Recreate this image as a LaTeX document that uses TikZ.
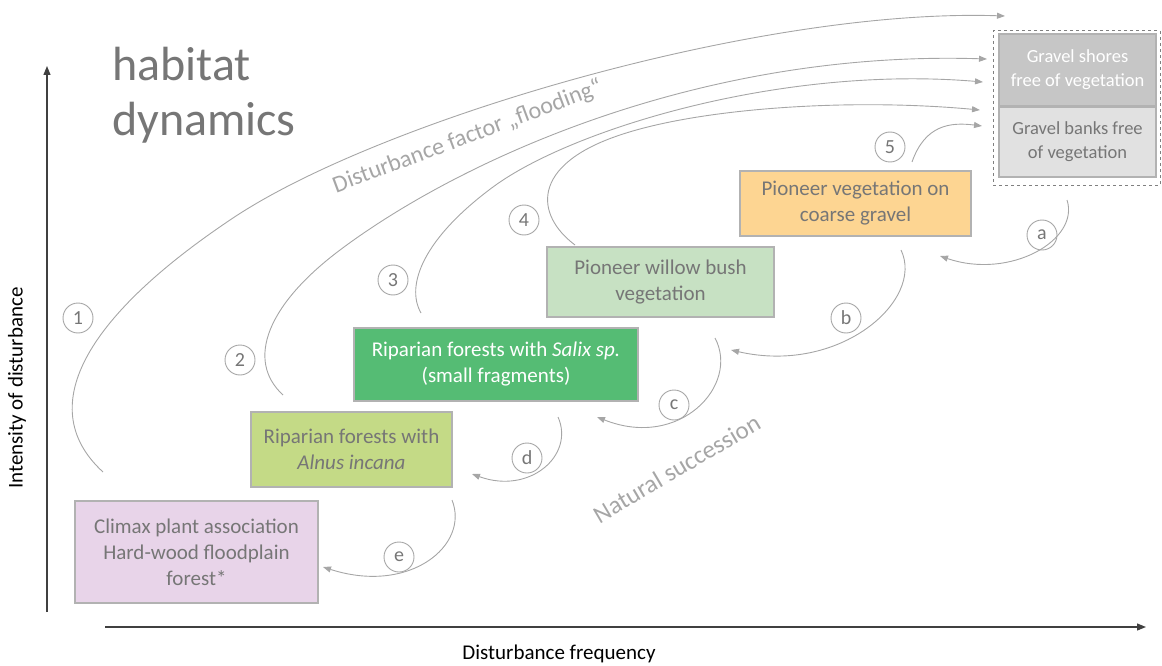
\documentclass[tikz,border=0pt]{standalone}
\usepackage{fontspec}
\setmainfont{Carlito}
\usetikzlibrary{arrows.meta}
\definecolor{txtgray}{HTML}{767676}
\definecolor{linegray}{HTML}{A6A6A6}
\definecolor{climaxfill}{HTML}{E8D4E9}
\definecolor{alnusfill}{HTML}{C4DA86}
\definecolor{salixfill}{HTML}{55BC74}
\definecolor{willowfill}{HTML}{C7E1C3}
\definecolor{gravelfill}{HTML}{FDD592}
\definecolor{shoresfill}{HTML}{C6C6C6}
\definecolor{banksfill}{HTML}{E1E1E1}

\begin{document}
\begin{tikzpicture}[x=1pt, y=-1pt,
    box/.style={draw=black!30, line width=1.3pt, inner sep=0pt, align=center,
      text=txtgray, font=\fontsize{21}{26}\selectfont},
    smallbox/.style={box, font=\fontsize{18.5}{24}\selectfont},
    tag/.style={circle, draw=linegray, line width=0.9pt, minimum size=30pt,
      inner sep=0pt, text=txtgray, font=\fontsize{20}{20}\selectfont},
    flood/.style={draw=linegray, line width=0.9pt, -{Triangle[length=8pt,width=6pt]}},
    axis/.style={draw=black!75, line width=1.2pt, -{Triangle[length=9pt,width=7pt]}}
    ]
    \useasboundingbox (0,0) rectangle (1162,666);

    % axes
    \coordinate (ybot) at (47,612);
    \coordinate (ytop) at (47,66);
    \coordinate (xleft) at (105,627);
    \coordinate (xright) at (1146,627);
    \draw[axis] (ybot) -- (ytop);
    \draw[axis] (xleft) -- (xright);
    \node[rotate=90, font=\fontsize{21}{21}\selectfont] (ylabel) at (17,388) {Intensity of disturbance};
    \node[font=\fontsize{21}{21}\selectfont] (xlabel) at (559,654) {Disturbance frequency};

    \node[anchor=north west, inner sep=0pt, align=left, text=txtgray,
      font=\fontsize{48}{55}\selectfont] (title) at (112,47) {habitat\\dynamics};

    % habitat boxes
    \node[box, fill=climaxfill, minimum width=243pt, minimum height=102pt] (climax) at (196.5,552)
      {Climax plant association\\Hard-wood floodplain\\forest*};
    \node[box, fill=alnusfill, minimum width=201pt, minimum height=75pt] (alnus) at (351.5,449.5)
      {Riparian forests with\\\textit{Alnus incana}};
    \node[box, fill=salixfill, text=white, minimum width=284pt, minimum height=73pt] (salix) at (496,364.5)
      {Riparian forests with \textit{Salix sp.}\\(small fragments)};
    \node[box, fill=willowfill, minimum width=227pt, minimum height=70pt] (willow) at (660.5,282)
      {Pioneer willow bush\\vegetation};
    \node[box, fill=gravelfill, minimum width=231pt, minimum height=65pt] (pioneer) at (855.5,203.5)
      {Pioneer vegetation on\\coarse gravel};
    \node[draw=black!50, dashed, line width=1pt, minimum width=167pt, minimum height=154pt] (gravelzone) at (1076.5,108) {};
    \node[smallbox, fill=shoresfill, text=white, minimum width=157pt, minimum height=72pt] (shores) at (1077.5,70)
      {Gravel shores\\free of vegetation};
    \node[smallbox, fill=banksfill, minimum width=157pt, minimum height=70pt] (banks) at (1077.5,142)
      {Gravel banks free\\of vegetation};

    % disturbance by flooding
    \coordinate (f1) at (103,472);
    \coordinate (f1 end) at (1005,16);
    \coordinate (f2) at (283,395);
    \coordinate (f2 end) at (987,59);
    \coordinate (f3) at (421,313);
    \coordinate (f3 end) at (983,82);
    \coordinate (f4) at (575,245);
    \coordinate (f4 end) at (980,110);
    \coordinate (f5) at (912,162);
    \coordinate (f5 end) at (982,126);
    \draw[flood] (f1) .. controls (30,405) and (92,312) .. (233,218)
      .. controls (380,120) and (760,8) .. (f1 end);
    \draw[flood] (f2) .. controls (245,360) and (268,304) .. (340,250)
      .. controls (460,160) and (700,50) .. (f2 end);
    \draw[flood] (f3) .. controls (405,285) and (424,238) .. (493,187)
      .. controls (570,130) and (780,65) .. (f3 end);
    \draw[flood] (f4) .. controls (535,215) and (530,165) .. (620,135)
      .. controls (700,108) and (850,98) .. (f4 end);
    \draw[flood] (f5) .. controls (925,125) and (950,122) .. (f5 end);
    \node[rotate=20.5, anchor=base, text=linegray, font=\fontsize{24}{24}\selectfont] (factor) at (470,143)
      {Disturbance factor „flooding“};

    % natural succession
    \coordinate (sa) at (1067,200);
    \coordinate (sa end) at (940,256);
    \coordinate (sb) at (901,250);
    \coordinate (sb end) at (731,350);
    \coordinate (sc) at (715,338);
    \coordinate (sc end) at (597,417);
    \coordinate (sd) at (558,417);
    \coordinate (sd end) at (472,474);
    \coordinate (se) at (452,500);
    \coordinate (se end) at (323,567);
    \draw[flood] (sa) .. controls (1080,240) and (1010,280) .. (sa end);
    \draw[flood] (sb) .. controls (925,300) and (840,375) .. (sb end);
    \draw[flood] (sc) .. controls (740,385) and (680,450) .. (sc end);
    \draw[flood] (sd) .. controls (575,455) and (530,495) .. (sd end);
    \draw[flood] (se) .. controls (470,545) and (410,595) .. (se end);
    \node[rotate=30.6, anchor=base, text=linegray, font=\fontsize{25}{25}\selectfont] (succession) at (681,476)
      {Natural succession};

    % circled tags
    \node[tag] (t1) at (78,318) {1};
    \node[tag] (t2) at (240,360) {2};
    \node[tag] (t3) at (393,280) {3};
    \node[tag] (t4) at (524,220) {4};
    \node[tag] (t5) at (890,147) {5};
    \node[tag] (ta) at (1042,235) {a};
    \node[tag] (tb) at (846,318) {b};
    \node[tag] (tc) at (674,405) {c};
    \node[tag] (td) at (527,458) {d};
    \node[tag] (te) at (399,557) {e};
  \end{tikzpicture}
\end{document}
